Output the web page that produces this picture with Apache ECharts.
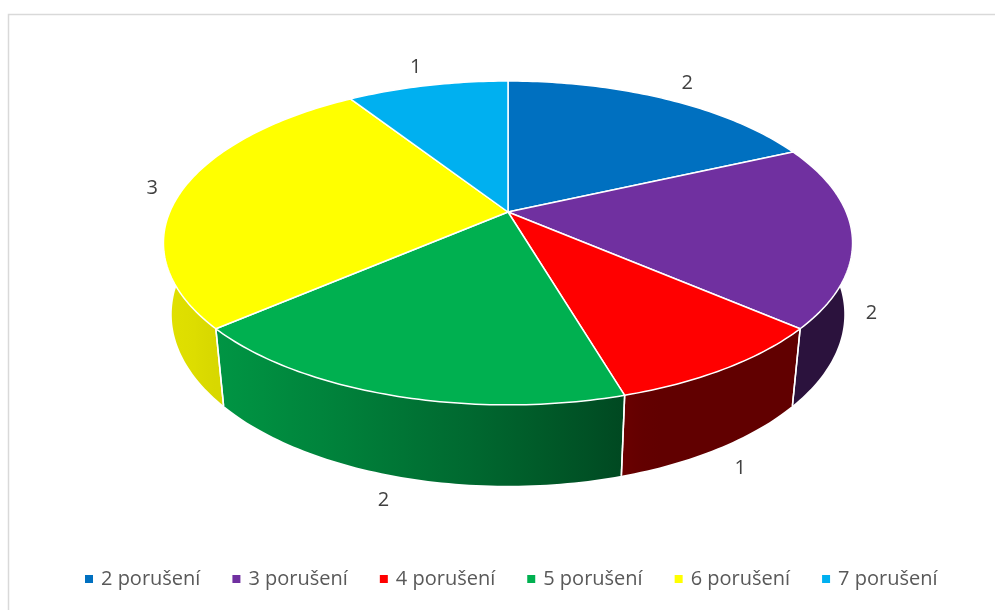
<!DOCTYPE html>
<html>
<head>
<meta charset="utf-8">
<script src="https://cdn.jsdelivr.net/npm/echarts@6/dist/echarts.min.js"></script>
<style>
  html, body { margin: 0; padding: 0; background: #ffffff; }
  #chart { width: 995px; height: 610px; }
</style>
</head>
<body>
<div id="chart"></div>
<script>
// Number of cases per violation count
const categories = ['2 porušení', '3 porušení', '4 porušení', '5 porušení', '6 porušení', '7 porušení'];
const counts = [2, 2, 1, 2, 3, 1];
const sliceColors = ['#0070c0', '#7030a0', '#ff0000', '#00b050', '#ffff00', '#00b0f0'];

// Perspective camera for the tilted disk (unit radius)
const CX = 508, CY = 212;          // screen position of the disk centre
const F = 1571, D = 4.645;         // focal length, camera distance
const TILT = 27.47 * Math.PI / 180;
const SIN_A = Math.sin(TILT), COS_A = Math.cos(TILT);
const DEPTH = 0.24;                // thickness of the disk
const FONT = '"Open Sans", "Noto Sans", sans-serif';

const total = counts.reduce((a, b) => a + b, 0);

// t: degrees clockwise from the back of the disk; h: height (0 = top face)
function project(r, t, h) {
  const rad = t * Math.PI / 180;
  const u = r * Math.sin(rad);
  const v = -r * Math.cos(rad);
  const yc = h * COS_A - v * SIN_A;
  const zc = D - (v * COS_A + h * SIN_A);
  return [CX + F * u / zc, CY - F * yc / zc];
}

function shadeFactor(t) {
  const c = Math.cos((t - 250) * Math.PI / 180);
  return 0.38 + 0.5 * Math.max(0, c);
}

function shade(hex, k) {
  const n = parseInt(hex.slice(1), 16);
  const r = Math.round(((n >> 16) & 255) * k);
  const g = Math.round(((n >> 8) & 255) * k);
  const b = Math.round((n & 255) * k);
  return 'rgb(' + r + ',' + g + ',' + b + ')';
}

function arc(r, a, b, h) {
  const pts = [];
  const steps = Math.max(2, Math.ceil(Math.abs(b - a) / 1));
  for (let i = 0; i <= steps; i++) {
    pts.push(project(r, a + (b - a) * i / steps, h));
  }
  return pts;
}

function renderSlice(params, api) {
  const idx = params.seriesIndex;
  const value = api.value(0);
  let before = 0;
  for (let i = 0; i < idx; i++) before += counts[i];
  const t1 = before / total * 360;
  const t2 = (before + value) / total * 360;
  const color = sliceColors[idx];
  const children = [];

  // outer wall, only the half facing the viewer
  const a = Math.max(t1, 90), b = Math.min(t2, 270);
  if (b > a) {
    const top = arc(1, a, b, 0);
    const bottom = arc(1, b, a, -DEPTH);
    const samples = [];
    for (let i = 0; i <= 12; i++) {
      const t = a + (b - a) * i / 12;
      samples.push({ x: project(1, t, 0)[0], c: shade(color, shadeFactor(t)) });
    }
    samples.sort((p, q) => p.x - q.x);
    const x0 = samples[0].x, x1 = samples[samples.length - 1].x;
    const span = Math.max(1, x1 - x0);
    const stops = samples.map(s => ({ offset: (s.x - x0) / span, color: s.c }));
    children.push({
      type: 'polygon',
      z2: 1,
      shape: { points: top.concat(bottom) },
      style: { fill: new echarts.graphic.LinearGradient(x0, 0, x1, 0, stops, true), stroke: null }
    });
    [t1, t2].forEach(t => {
      if (t > 90 && t < 270) {
        const p = project(1, t, 0), q = project(1, t, -DEPTH);
        children.push({
          type: 'line',
          z2: 3,
          shape: { x1: p[0], y1: p[1], x2: q[0], y2: q[1] },
          style: { stroke: '#ffffff', lineWidth: 1.5 }
        });
      }
    });
  }

  // top face
  children.push({
    type: 'polygon',
    z2: 2,
    shape: { points: [project(0, 0, 0)].concat(arc(1, t1, t2, 0)) },
    style: { fill: color, stroke: '#ffffff', lineWidth: 1.5, lineJoin: 'round' }
  });

  // value label outside the slice: front labels hang below the wall, back ones sit above the rim
  const tm = (t1 + t2) / 2;
  const cosm = Math.cos(tm * Math.PI / 180);
  const front = -cosm > 0;
  let lp;
  if (front) {
    lp = project(1.08, tm, -DEPTH);
    lp = [lp[0], lp[1] + 5];
  } else {
    lp = project(1.08 + 0.1 * Math.abs(cosm), tm, 0);
  }
  children.push({
    type: 'text',
    z2: 5,
    x: lp[0], y: lp[1],
    style: {
      text: String(value),
      fill: '#404040',
      fontSize: 20,
      fontFamily: FONT,
      align: 'center',
      verticalAlign: 'middle'
    }
  });

  return { type: 'group', children: children };
}

const chart = echarts.init(document.getElementById('chart'), null, { renderer: 'canvas' });

const series = categories.map((name, i) => ({
  type: 'custom',
  name: name,
  coordinateSystem: 'none',
  itemStyle: { color: sliceColors[i] },
  data: [[counts[i]]],
  renderItem: renderSlice,
  silent: true
}));

chart.setOption({
  animation: false,
  backgroundColor: '#ffffff',
  graphic: [{
    type: 'rect',
    silent: true,
    shape: { x: 8.5, y: 14.5, width: 1000, height: 620 },
    style: { fill: 'none', stroke: '#d9d9d9', lineWidth: 1.5 }
  }],
  legend: {
    data: categories,
    left: 80,
    top: 564,
    icon: 'rect',
    itemWidth: 8,
    itemHeight: 8,
    itemGap: 32,
    textStyle: { color: '#595959', fontSize: 20, fontFamily: FONT, padding: [0, 0, 0, 3] }
  },
  series: series
});
</script>
</body>
</html>
